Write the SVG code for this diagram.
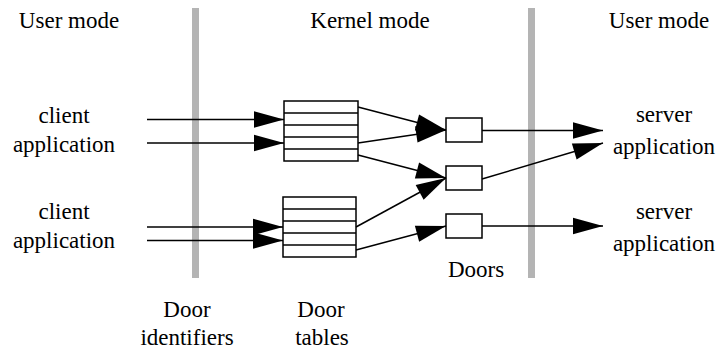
<svg xmlns="http://www.w3.org/2000/svg" width="719" height="349" viewBox="0 0 719 349">
<style>
text{font-family:'Liberation Serif','Times New Roman',serif;font-size:23px;fill:#000;text-anchor:middle}
.bar{fill:#b4b4b4}
.box{fill:#fff;stroke:#000;stroke-width:1.5}
.ln{stroke:#000;stroke-width:1.5;fill:none;marker-end:url(#ah)}
.row{stroke:#000;stroke-width:1.5}
</style>
<defs>
<marker id="ah" markerUnits="userSpaceOnUse" markerWidth="31" markerHeight="17" refX="30" refY="8.3" orient="auto" overflow="visible">
<path d="M0,0 L30,8.3 L0,16.6 Z" fill="#000"/>
</marker>
</defs>
<g id="labels">
<text x="69" y="28">User mode</text>
<text x="370" y="28">Kernel mode</text>
<text x="659" y="28">User mode</text>
</g>
<g id="bars">
<rect class="bar" x="192" y="8" width="7" height="270"/>
<rect class="bar" x="528" y="8" width="7" height="270"/>
</g>
<g id="client1"><text x="64" y="123">client</text><text x="64" y="152">application</text></g>
<g id="client2"><text x="64" y="219">client</text><text x="64" y="248">application</text></g>
<g id="server1"><text x="664" y="122">server</text><text x="664" y="154">application</text></g>
<g id="server2"><text x="664" y="219">server</text><text x="664" y="251">application</text></g>
<g id="table1">
<rect class="box" x="284" y="101" width="74" height="60"/>
<line class="row" x1="284" y1="113" x2="358" y2="113"/>
<line class="row" x1="284" y1="125" x2="358" y2="125"/>
<line class="row" x1="284" y1="137" x2="358" y2="137"/>
<line class="row" x1="284" y1="149" x2="358" y2="149"/>
</g>
<g id="table2">
<rect class="box" x="283" y="197" width="73" height="60"/>
<line class="row" x1="283" y1="209" x2="356" y2="209"/>
<line class="row" x1="283" y1="221" x2="356" y2="221"/>
<line class="row" x1="283" y1="233" x2="356" y2="233"/>
<line class="row" x1="283" y1="245" x2="356" y2="245"/>
</g>
<g id="door1"><rect class="box" x="446" y="118" width="36" height="24"/></g>
<g id="door2"><rect class="box" x="446" y="166" width="36" height="24"/></g>
<g id="door3"><rect class="box" x="446" y="214" width="36" height="24"/></g>
<g id="connectors">
<line class="ln" x1="147" y1="119.5" x2="284" y2="119.5"/>
<line class="ln" x1="147" y1="143" x2="284" y2="143"/>
<line class="ln" x1="147" y1="227" x2="283" y2="227"/>
<line class="ln" x1="147" y1="240.5" x2="283" y2="240.5"/>
<line class="ln" x1="358" y1="107" x2="446" y2="130"/>
<line class="ln" x1="358" y1="143" x2="446" y2="130"/>
<line class="ln" x1="358" y1="155" x2="446" y2="178"/>
<line class="ln" x1="356" y1="227" x2="446" y2="178"/>
<line class="ln" x1="356" y1="250" x2="446" y2="226"/>
<line class="ln" x1="482" y1="130.5" x2="603" y2="130.5"/>
<line class="ln" x1="482" y1="179" x2="603" y2="143"/>
<line class="ln" x1="482" y1="226" x2="603" y2="226"/>
</g>
<g id="captions">
<text x="476" y="277">Doors</text>
<text x="187" y="317">Door</text>
<text x="187" y="345">identifiers</text>
<text x="321" y="317">Door</text>
<text x="322" y="345">tables</text>
</g>
</svg>
